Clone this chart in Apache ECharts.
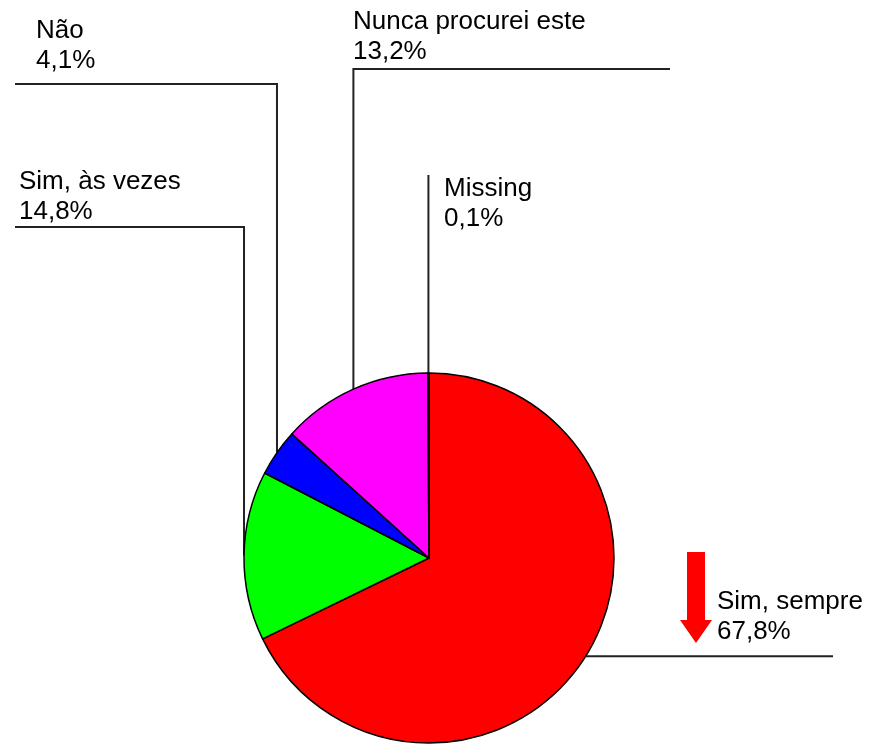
<!DOCTYPE html>
<html>
<head>
<meta charset="utf-8">
<script src="https://cdn.jsdelivr.net/npm/echarts@6/dist/echarts.min.js"></script>
<style>
  html, body { margin: 0; padding: 0; background: #fff; }
  #chart { width: 878px; height: 744px; }
</style>
</head>
<body>
<div id="chart"></div>
<script>
// categorias e percentagens (sentido horario a partir do topo)
var categories = ['Sim, sempre', 'Sim, às vezes', 'Não', 'Nunca procurei este', 'Missing'];
var percents = [67.8, 14.8, 4.1, 13.2, 0.1];
var sliceColors = ['#ff0000', '#00ff00', '#0000ff', '#ff00ff', '#ffffff'];

// posicao dos rotulos e das linhas de chamada
var labelPos = [
  { x: 717, y: 587, elbowY: null, endX: 833 },
  { x: 19, y: 167, elbowY: 227, endX: 15 },
  { x: 36, y: 16, elbowY: 84, endX: 15 },
  { x: 353, y: 7, elbowY: 69, endX: 670 },
  { x: 444, y: 174, elbowY: 175, endX: null }
];

var pieCenter = [429, 558];
var pieRadius = 185;

function fmtPct(v) {
  return v.toFixed(1).replace('.', ',') + '%';
}

// ponto na borda da fatia (angulo medio)
function edgePoint(idx) {
  var total = 0, before = 0;
  for (var i = 0; i < percents.length; i++) {
    total += percents[i];
    if (i < idx) before += percents[i];
  }
  var mid = (before + percents[idx] / 2) / total * Math.PI * 2;
  return [pieCenter[0] + pieRadius * Math.sin(mid), pieCenter[1] - pieRadius * Math.cos(mid)];
}

var seriesData = [];
for (var i = 0; i < categories.length; i++) {
  seriesData.push({ name: categories[i], value: percents[i], itemStyle: { color: sliceColors[i] } });
}

var myChart = echarts.init(document.getElementById('chart'));
var option = {
  backgroundColor: '#ffffff',
  animation: false,
  textStyle: { fontFamily: 'Liberation Sans, Arial, sans-serif' },
  series: [{
    type: 'pie',
    center: pieCenter,
    radius: pieRadius,
    startAngle: 90,
    clockwise: true,
    avoidLabelOverlap: false,
    minAngle: 0,
    itemStyle: { borderColor: '#000', borderWidth: 1.5 },
    label: {
      show: true,
      position: 'outside',
      color: '#000',
      fontSize: 26,
      lineHeight: 30,
      fontFamily: 'Liberation Sans, Arial, sans-serif',
      formatter: function (p) { return p.name + '\n' + fmtPct(p.value); }
    },
    labelLine: {
      show: true,
      length: 5,
      length2: 5,
      lineStyle: { color: '#222', width: 2 }
    },
    labelLayout: function (params) {
      var lp = labelPos[params.dataIndex];
      var s = edgePoint(params.dataIndex);
      var pts;
      if (lp.elbowY === null) {
        pts = [s, [lp.endX, s[1]], [lp.endX, s[1]]];
      } else if (lp.endX === null) {
        pts = [s, [s[0], lp.elbowY], [s[0], lp.elbowY]];
      } else {
        pts = [s, [s[0], lp.elbowY], [lp.endX, lp.elbowY]];
      }
      return {
        x: lp.x,
        y: lp.y,
        align: 'left',
        verticalAlign: 'top',
        labelLinePoints: pts
      };
    },
    data: seriesData
  }],
  graphic: [{
    type: 'polygon',
    shape: {
      points: [[687, 552], [705, 552], [705, 620], [712, 620], [696, 643], [680, 620], [687, 620]]
    },
    style: { fill: '#ff0000' }
  }]
};
myChart.setOption(option);
</script>
</body>
</html>
